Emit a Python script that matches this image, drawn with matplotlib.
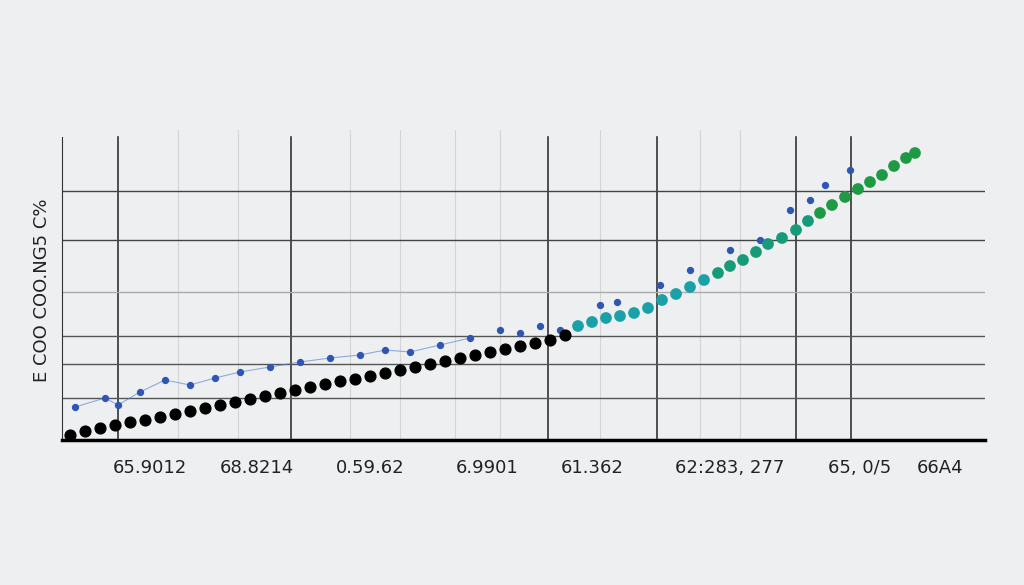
import matplotlib
matplotlib.use("Agg")
import matplotlib.pyplot as plt

black_x = [70,85,100,115,130,145,160,175,190,205,220,235,250,265,280,295,310,325,340,355,370,385,400,415,430,445,460,475,490,505,520,535,550,565]
black_y = [435,431,428,425,422,420,417,414,411,408,405,402,399,396,393,390,387,384,381,379,376,373,370,367,364,361,358,355,352,349,346,343,340,335]
green_x = [578,592,606,620,634,648,662,676,690,704,718,730,743,756,768,782,796,808,820,832,845,858,870,882,894,906,915]
green_y = [326,322,318,316,313,308,300,294,287,280,273,266,260,252,244,238,230,221,213,205,197,189,182,175,166,158,153]
blue_x = [75,105,118,140,165,190,215,240,270,300,330,360,385,410,440,470,500,520,540,560,600,617,660,690,730,760,790,810,825,850]
blue_y = [407,398,405,392,380,385,378,372,367,362,358,355,350,352,345,338,330,333,326,330,305,302,285,270,250,240,210,200,185,170]
tick_pos = [150,257,370,487,592,730,860,940]
tick_labels = ["65.9012","68.8214","0.59.62","6.9901","61.362","62:283, 277","65, 0/5","66A4"]
ylabel = "E COO COO.NG5 C%"

fig = plt.figure(figsize=(10.24,5.85), dpi=100)
fig.patch.set_facecolor("#eeeff0")
ax = fig.add_axes([62/1024, (585-440)/585, (985-62)/1024, (440-130)/585])
ax.set_facecolor("none")
ax.set_xlim(62,985); ax.set_ylim(440,130)
for x in [178,238,350,400,455,500,600,700,740]:
    ax.axvline(x, color="#d4d4d4", lw=0.8, zorder=0)
for x in [118,291,548,657,796,851]:
    ax.plot([x,x],[438,137], color="#333333", lw=1.2, zorder=1)
for y,c in [(191,"#444"),(240,"#444"),(292,"#aaa"),(336,"#555"),(364,"#555"),(398,"#555")]:
    ax.axhline(y, color=c, lw=1.0, zorder=1)
for s in ["top","right"]:
    ax.spines[s].set_visible(False)
ax.spines["left"].set_color("#333"); ax.spines["left"].set_bounds(438,137)
ax.spines["bottom"].set_color("black"); ax.spines["bottom"].set_linewidth(2.5)
ax.plot(blue_x[:16], blue_y[:16], color="#4a7fd0", lw=0.8, alpha=0.6, zorder=2)
ax.scatter(blue_x, blue_y, s=18, color="#2f55b5", zorder=3)
ax.scatter(black_x, black_y, s=60, color="black", zorder=4)
ax.scatter(green_x, green_y, s=55, c=["#1aa0a8"]*10+["#169a7a"]*8+["#1e9a45"]*9, zorder=4)
ax.set_xticks(tick_pos); ax.set_xticklabels(tick_labels, fontsize=13, color="#222")
ax.tick_params(axis="x", length=0, pad=14)
ax.set_yticks([])
fig.text(42/1024, 1-290/585, ylabel, rotation=90, fontsize=13, ha="center", va="center", color="#222")
fig.savefig("out.png", dpi=100, facecolor=fig.get_facecolor())
